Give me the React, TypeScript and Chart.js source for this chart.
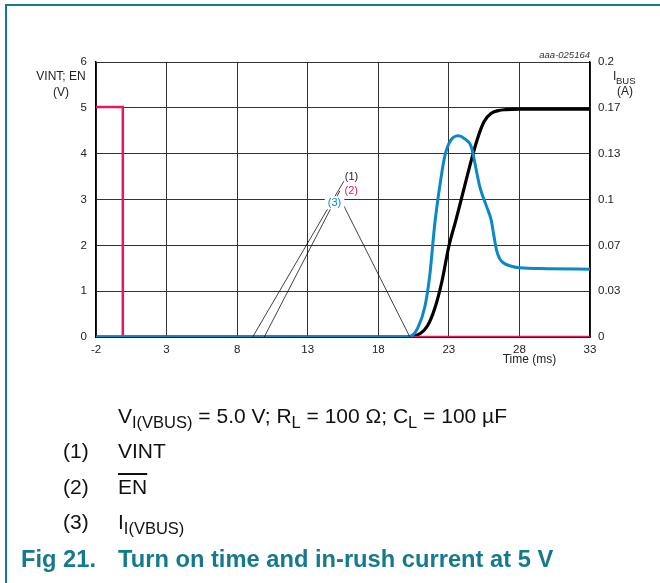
import React, { useEffect, useRef } from 'react';
import { Chart, registerables } from 'chart.js';

Chart.register(...registerables);

// ---- axes ----
const xTicks = [-2, 3, 8, 13, 18, 23, 28, 33];
const yTicks = [0, 1, 2, 3, 4, 5, 6];
const rightTickLabels = ['0', '0.03', '0.07', '0.1', '0.13', '0.17', '0.2'];
const rightMax = 0.2;

// ---- series: EN (V) ----
const enTime = [-2, -0.1, -0.1, 33];
const enVolt = [5.02, 5.02, 0, 0];

// ---- series: VINT (V) ----
const vintTime = [-2, 20, 20.5, 21, 21.5, 22, 22.5, 23, 23.5, 24, 24.5, 25, 25.5, 26, 26.5, 27, 28, 33];
const vintVolt = [0, 0, 0.02, 0.08, 0.25, 0.62, 1.2, 1.98, 2.55, 3.15, 3.75, 4.3, 4.7, 4.88, 4.94, 4.96, 4.97, 4.97];

// ---- series: I(VBUS) (A) ----
const ibusTime = [-2, 19.8, 20.3, 20.8, 21.3, 21.65, 22.0, 22.36, 22.7, 23.07, 23.66, 24.1, 24.6, 24.95, 25.2, 25.67, 26.0, 26.2, 26.38, 26.6, 26.85, 27.5, 28.0, 30, 33];
const ibusAmp = [0, 0, 0.0007, 0.0067, 0.022, 0.045, 0.082, 0.11, 0.131, 0.142, 0.1463, 0.1443, 0.138, 0.121, 0.109, 0.095, 0.085, 0.073, 0.063, 0.057, 0.054, 0.0513, 0.0503, 0.0497, 0.0493];

// ---- leader lines & labels (data coordinates, left axis) ----
const leader1T = [15.56, 9.1];
const leader1V = [3.4, 0];
const leader2T = [15.28, 9.92];
const leader2V = [3.19, 0];
const leader3T = [15.56, 20.24];
const leader3V = [2.86, 0];
const labelTexts = ['(1)', '(2)', '(3)'];
const labelT = [16.1, 16.08, 14.9];
const labelV = [3.49, 3.19, 2.93];

const PINK = '#e6185c';
const BLUE = '#0a88c8';
const TEAL = '#167a8e';
const FONT = '"Liberation Sans", Arial, Helvetica, sans-serif';

const pts = (t: number[], v: number[]) => t.map((x, i) => ({ x, y: v[i] }));

const textPlugin = {
  id: 'figTexts',
  afterDatasetsDraw(chart: any) {
    const ctx = chart.ctx;
    const xs = chart.scales.x;
    const ys = chart.scales.y;
    ctx.save();
    ctx.font = `11px ${FONT}`;
    ctx.textAlign = 'center';
    ctx.textBaseline = 'middle';
    const colors = ['#222', PINK, BLUE];
    labelTexts.forEach((txt, i) => {
      const px = xs.getPixelForValue(labelT[i]);
      const py = ys.getPixelForValue(labelV[i]);
      if (i === 2) {
        const w = ctx.measureText(txt).width;
        ctx.fillStyle = '#fff';
        ctx.fillRect(px - w / 2 - 3, py - 6.5, w + 6, 13);
      }
      ctx.fillStyle = colors[i];
      ctx.fillText(txt, px, py);
    });
    ctx.restore();
  },
  afterDraw(chart: any) {
    const ctx = chart.ctx;
    const a = chart.chartArea;
    const xs = chart.scales.x;
    ctx.save();
    ctx.fillStyle = '#222';
    ctx.textBaseline = 'middle';
    ctx.font = `12px ${FONT}`;
    ctx.textAlign = 'center';
    ctx.fillText('VINT; EN', a.left - 35, a.top + 15);
    ctx.fillText('(V)', a.left - 35, a.top + 30.5);
    ctx.fillText('(A)', a.right + 35, a.top + 30);
    ctx.textAlign = 'left';
    ctx.fillText('I', a.right + 23, a.top + 15);
    ctx.font = `9.5px ${FONT}`;
    ctx.fillText('BUS', a.right + 26, a.top + 19);
    ctx.font = `12px ${FONT}`;
    ctx.textAlign = 'center';
    ctx.fillText('Time (ms)', xs.getPixelForValue(28) + 10, a.bottom + 23);
    ctx.font = `italic 9.5px ${FONT}`;
    ctx.textAlign = 'right';
    ctx.fillStyle = '#333';
    ctx.fillText('aaa-025164', a.right, a.top - 6.5);
    ctx.restore();
  },
};

function ChartCanvas() {
  const ref = useRef<HTMLCanvasElement | null>(null);
  useEffect(() => {
    if (!ref.current) return;
    const tickFont = { family: FONT, size: 11.5 };
    const chart = new Chart(ref.current, {
      type: 'line',
      data: {
        datasets: [
          { data: pts(leader1T, leader1V), borderColor: '#111', borderWidth: 0.8, pointRadius: 0, yAxisID: 'y' },
          { data: pts(leader2T, leader2V), borderColor: '#111', borderWidth: 0.8, pointRadius: 0, yAxisID: 'y' },
          { data: pts(leader3T, leader3V), borderColor: '#111', borderWidth: 0.8, pointRadius: 0, yAxisID: 'y' },
          { label: 'I(VBUS)', data: pts(ibusTime, ibusAmp), borderColor: BLUE, borderWidth: 3, pointRadius: 0, yAxisID: 'y2', cubicInterpolationMode: 'monotone' },
          { label: 'EN', data: pts(enTime, enVolt), borderColor: PINK, borderWidth: 2.5, pointRadius: 0, yAxisID: 'y', tension: 0 },
          { label: 'VINT', data: pts(vintTime, vintVolt), borderColor: '#000', borderWidth: 3.2, pointRadius: 0, yAxisID: 'y', cubicInterpolationMode: 'monotone' },
        ],
      } as any,
      options: {
        responsive: false,
        animation: false,
        events: [],
        layout: { padding: { left: 0, right: 0, top: 62, bottom: 0 } },
        plugins: { legend: { display: false }, tooltip: { enabled: false }, title: { display: false } },
        scales: {
          x: {
            type: 'linear',
            min: -2,
            max: 33,
            afterBuildTicks: (s: any) => { s.ticks = xTicks.map((value) => ({ value })); },
            afterFit: (s: any) => { s.height = 583 - 337; },
            ticks: { font: tickFont, color: '#222', padding: 6, maxRotation: 0, autoSkip: false },
            grid: { color: '#333', lineWidth: 1, drawTicks: false },
            border: { color: '#000', width: 1.4 },
          },
          y: {
            type: 'linear',
            position: 'left',
            min: 0,
            max: 6,
            afterBuildTicks: (s: any) => { s.ticks = yTicks.map((value) => ({ value })); },
            afterFit: (s: any) => { s.width = 96; },
            ticks: { font: tickFont, color: '#222', padding: 9 },
            grid: { color: '#333', lineWidth: 1, drawTicks: false },
            border: { color: '#000', width: 1.4 },
          },
          y2: {
            type: 'linear',
            position: 'right',
            min: 0,
            max: rightMax,
            afterBuildTicks: (s: any) => {
              s.ticks = rightTickLabels.map((_, i) => ({ value: (rightMax * yTicks[i]) / 6 }));
            },
            afterFit: (s: any) => { s.width = 70; },
            ticks: {
              font: tickFont,
              color: '#222',
              padding: 8,
              callback: (_v: any, i: number) => rightTickLabels[i],
            },
            grid: { display: false, drawTicks: false },
            border: { color: '#000', width: 1.4 },
          },
        },
      } as any,
      plugins: [textPlugin],
    });
    return () => chart.destroy();
  }, []);
  return <canvas ref={ref} width={660} height={583} style={{ position: 'absolute', left: 0, top: 0, width: 660, height: 583 }} />;
}

const capStyle: React.CSSProperties = {
  position: 'absolute',
  fontFamily: FONT,
  fontSize: 21,
  lineHeight: '21px',
  color: '#111',
  whiteSpace: 'nowrap',
};
const subStyle: React.CSSProperties = { fontSize: 16.5, position: 'relative', top: 5 };
const titleStyle: React.CSSProperties = { fontSize: 23.7, lineHeight: '23px', fontWeight: 'bold', color: TEAL };

export default function App() {
  return (
    <div style={{ position: 'fixed', left: 0, top: 0, width: 660, height: 583, background: '#fff', overflow: 'hidden' }}>
      <div style={{ position: 'absolute', left: 5, top: 4, width: 700, height: 700, borderLeft: `2px solid ${TEAL}`, borderTop: `2px solid ${TEAL}` }} />
      <ChartCanvas />
      <div style={{ ...capStyle, left: 118, top: 405 }}>
        V<span style={subStyle}>I(VBUS)</span> = 5.0 V; R<span style={subStyle}>L</span> = 100 Ω; C<span style={subStyle}>L</span> = 100 µF
      </div>
      <div style={{ ...capStyle, left: 63, top: 440 }}>(1)</div>
      <div style={{ ...capStyle, left: 118, top: 440 }}>VINT</div>
      <div style={{ ...capStyle, left: 63, top: 476 }}>(2)</div>
      <div style={{ ...capStyle, left: 118, top: 476 }}>
        <span style={{ textDecoration: 'overline', textDecorationThickness: '1.5px' }}>EN</span>
      </div>
      <div style={{ ...capStyle, left: 63, top: 511 }}>(3)</div>
      <div style={{ ...capStyle, left: 118, top: 511 }}>
        I<span style={subStyle}>I(VBUS)</span>
      </div>
      <div style={{ ...capStyle, ...titleStyle, left: 21, top: 548 }}>Fig 21.</div>
      <div style={{ ...capStyle, ...titleStyle, left: 118, top: 548 }}>
        Turn on time and in-rush current at 5 V
      </div>
    </div>
  );
}
